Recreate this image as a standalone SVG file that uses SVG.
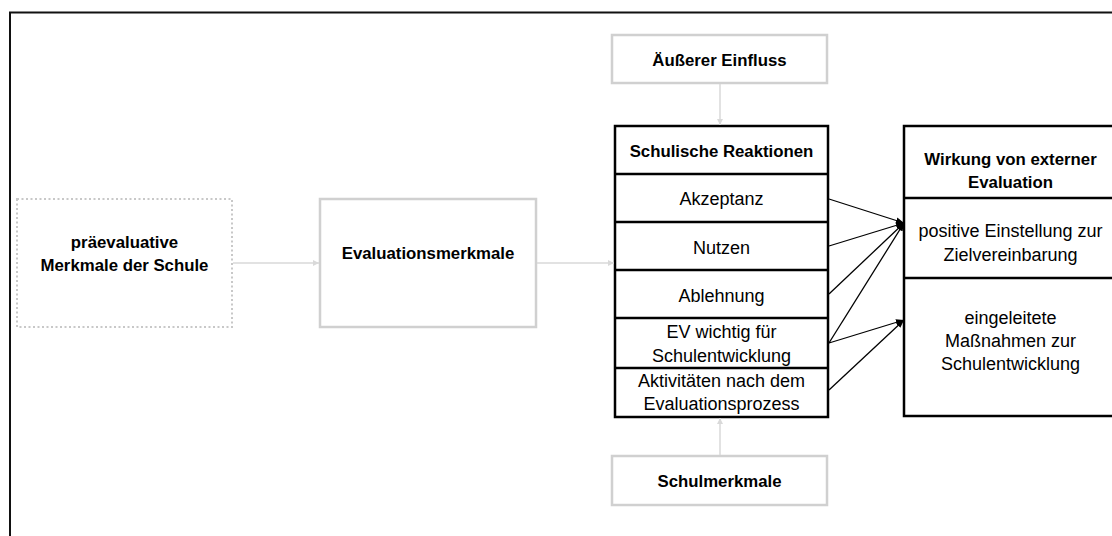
<svg xmlns="http://www.w3.org/2000/svg" width="1112" height="536" viewBox="0 0 1112 536">
  <style>
    .t { font-family: "Liberation Sans", Arial, sans-serif; font-size: 18px; fill: #000; text-anchor: middle; }
    .b { font-weight: bold; font-size: 16.8px; }
    .gray { fill: #fff; stroke: #d0d0d0; stroke-width: 2.5; }
    .dot { fill: #fff; stroke: #c8c8c8; stroke-width: 2; stroke-dasharray: 2 2.5; }
    .blk { fill: #fff; stroke: #000; stroke-width: 2.5; }
    .sep { stroke: #000; stroke-width: 2.5; }
    .lg { stroke: #d9d9d9; stroke-width: 1.5; fill: none; }
    .bl { stroke: #000; stroke-width: 1.3; fill: none; }
  </style>
  <defs>
    <marker id="ag" viewBox="0 0 10 10" refX="10" refY="5" markerWidth="6" markerHeight="6" markerUnits="userSpaceOnUse" orient="auto">
      <path d="M0,0 L10,5 L0,10 z" fill="#d9d9d9"/>
    </marker>
    <marker id="ab" viewBox="0 0 10 10" refX="10" refY="5" markerWidth="8" markerHeight="8" markerUnits="userSpaceOnUse" orient="auto">
      <path d="M0,1 L10,5 L0,9 z" fill="#000"/>
    </marker>
  </defs>

  <rect width="1112" height="536" fill="#fff"/>
  <!-- outer frame -->
  <rect x="10" y="12.5" width="1110" height="540" fill="none" stroke="#111" stroke-width="2"/>

  <g id="praeevaluativ">
    <rect class="dot" x="17" y="199" width="215" height="128"/>
    <text class="t b" x="124.5" y="248">präevaluative</text>
    <text class="t b" x="124.5" y="270.5">Merkmale der Schule</text>
  </g>

  <g id="evaluationsmerkmale">
    <rect class="gray" x="320" y="199" width="216" height="128"/>
    <text class="t b" x="428" y="259">Evaluationsmerkmale</text>
  </g>

  <g id="aeusserer-einfluss">
    <rect class="gray" x="612" y="35" width="215" height="48"/>
    <text class="t b" x="719.5" y="66">Äußerer Einfluss</text>
  </g>

  <g id="schulmerkmale">
    <rect class="gray" x="612" y="456" width="215" height="49"/>
    <text class="t b" x="719.5" y="487">Schulmerkmale</text>
  </g>

  <g id="schulische-reaktionen">
    <rect class="blk" x="615" y="126" width="213" height="291"/>
    <line class="sep" x1="615" y1="174" x2="828" y2="174"/>
    <line class="sep" x1="615" y1="222" x2="828" y2="222"/>
    <line class="sep" x1="615" y1="270" x2="828" y2="270"/>
    <line class="sep" x1="615" y1="318" x2="828" y2="318"/>
    <line class="sep" x1="615" y1="368" x2="828" y2="368"/>
    <text class="t b" x="721.5" y="157">Schulische Reaktionen</text>
    <text class="t" x="721.5" y="205">Akzeptanz</text>
    <text class="t" x="721.5" y="254">Nutzen</text>
    <text class="t" x="721.5" y="301.5">Ablehnung</text>
    <text class="t" x="721.5" y="338">EV wichtig für</text>
    <text class="t" x="721.5" y="361.5">Schulentwicklung</text>
    <text class="t" x="721.5" y="386.5">Aktivitäten nach dem</text>
    <text class="t" x="721.5" y="410">Evaluationsprozess</text>
  </g>

  <g id="wirkung">
    <rect class="blk" x="904" y="126" width="213" height="290"/>
    <line class="sep" x1="904" y1="198" x2="1117" y2="198"/>
    <line class="sep" x1="904" y1="278" x2="1117" y2="278"/>
    <text class="t b" x="1010.5" y="165">Wirkung von externer</text>
    <text class="t b" x="1010.5" y="188">Evaluation</text>
    <text class="t" x="1010.5" y="237">positive Einstellung zur</text>
    <text class="t" x="1010.5" y="260.5">Zielvereinbarung</text>
    <text class="t" x="1010.5" y="324">eingeleitete</text>
    <text class="t" x="1010.5" y="347">Maßnahmen zur</text>
    <text class="t" x="1010.5" y="370">Schulentwicklung</text>
  </g>

  <g id="connectors">
    <line class="lg" x1="233" y1="263" x2="319" y2="263" marker-end="url(#ag)"/>
    <line class="lg" x1="537" y1="263" x2="614" y2="263" marker-end="url(#ag)"/>
    <line class="lg" x1="720" y1="84" x2="720" y2="125" marker-end="url(#ag)"/>
    <line class="lg" x1="720" y1="455" x2="720" y2="418" marker-end="url(#ag)"/>
    <line class="bl" x1="829" y1="199" x2="904" y2="223" marker-end="url(#ab)"/>
    <line class="bl" x1="829" y1="246" x2="904" y2="223" marker-end="url(#ab)"/>
    <line class="bl" x1="829" y1="294" x2="904" y2="223" marker-end="url(#ab)"/>
    <line class="bl" x1="829" y1="343" x2="904" y2="223" marker-end="url(#ab)"/>
    <line class="bl" x1="829" y1="343" x2="904" y2="320" marker-end="url(#ab)"/>
    <line class="bl" x1="829" y1="390" x2="904" y2="320" marker-end="url(#ab)"/>
  </g>
</svg>
